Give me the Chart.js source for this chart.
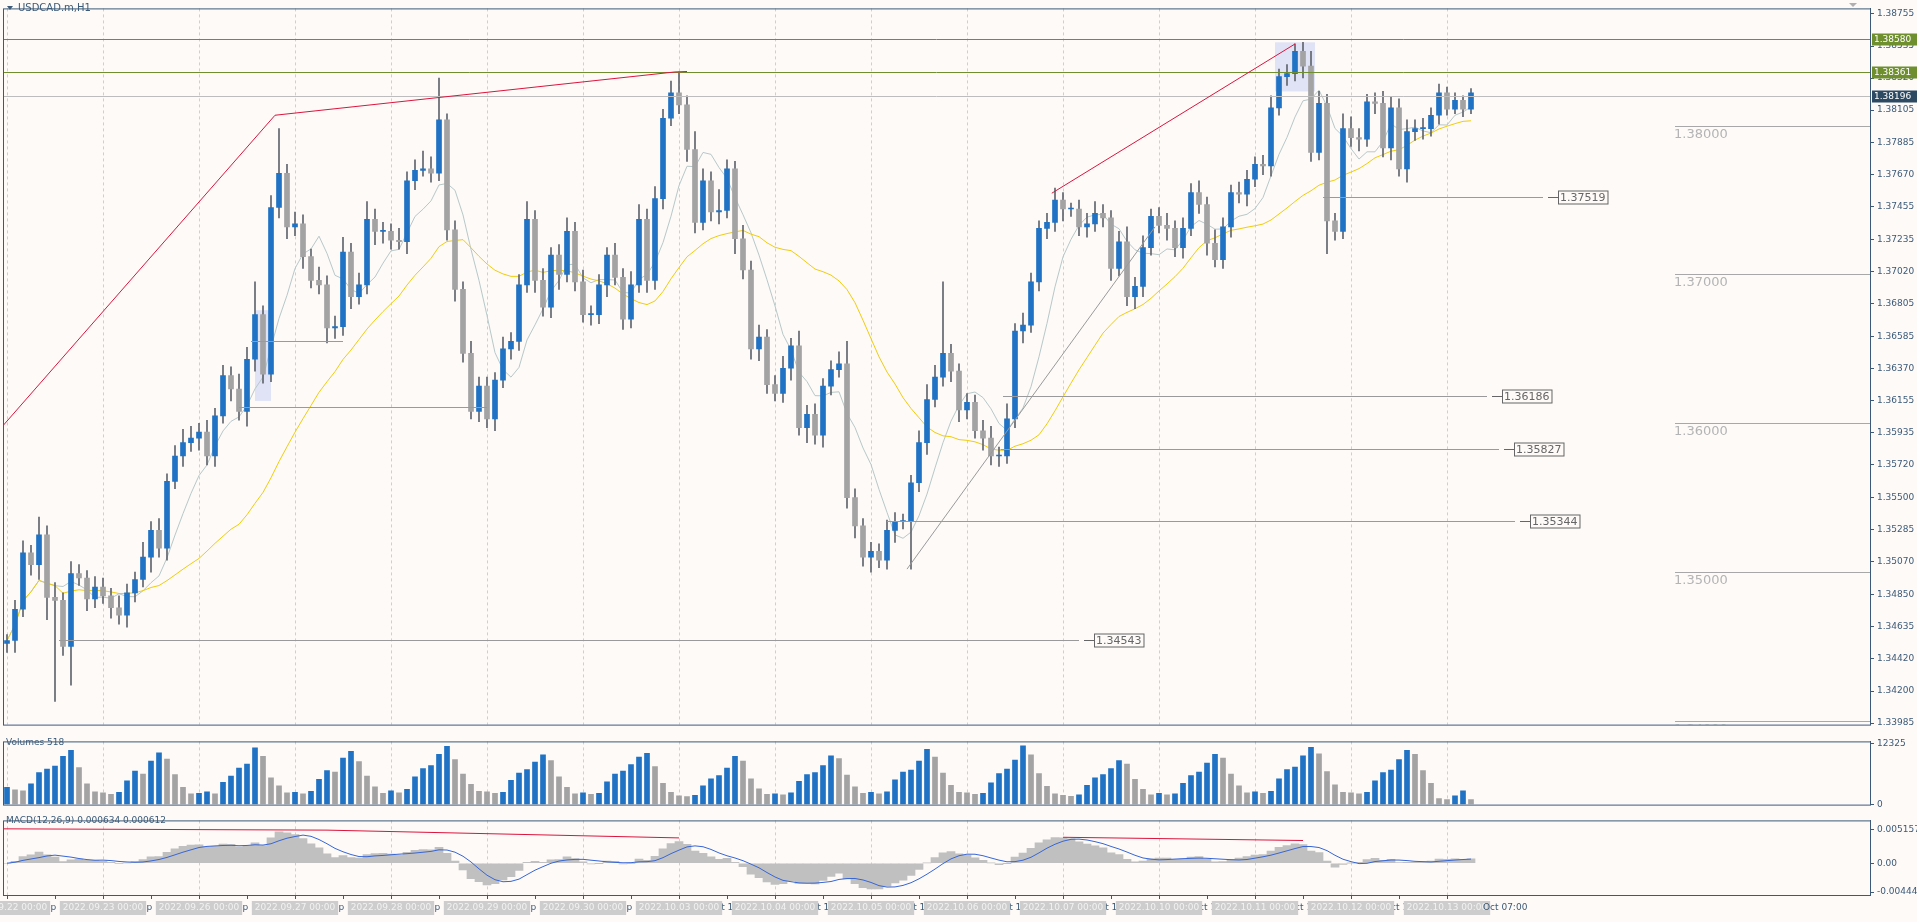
<!DOCTYPE html>
<html><head><meta charset="utf-8">
<script src="https://cdn.jsdelivr.net/npm/chart.js@4.4.1/dist/chart.umd.min.js"></script>
<style>
body{margin:0;background:#fdfaf8;overflow:hidden;width:1917px;height:922px}
canvas{position:absolute;left:0}
</style>
</head><body>
<canvas id="main" width="1917" height="733" style="top:0"></canvas>
<canvas id="vol" width="1917" height="80" style="top:733px"></canvas>
<canvas id="macd" width="1917" height="110" style="top:812px"></canvas>
<script>
// USDCAD.m H1, one bar per 2 hours
const days = ['2022.09.22','2022.09.23','2022.09.26','2022.09.27','2022.09.28','2022.09.29','2022.09.30',
  '2022.10.03','2022.10.04','2022.10.05','2022.10.06','2022.10.07','2022.10.10','2022.10.11','2022.10.12','2022.10.13'];
const midLabels = ['22 Sep','23 Sep','26 Sep','27 Sep','28 Sep','29 Sep','30 Sep',
  '3 Oct','4 Oct','5 Oct','6 Oct','7 Oct','10 Oct','11 Oct','12 Oct'];

// closes in pips above 1.34000
const firstOpen = 52;
const closePips = [
  54,75,113,105,125,83,81,50,99,96,82,90,
  84,76,71,86,95,110,128,116,161,178,187,190,
  194,178,205,232,223,208,243,273,233,345,368,332,
  334,312,296,293,264,265,315,285,293,337,329,329,
  323,322,363,370,371,368,404,330,290,247,208,225,
  203,229,250,255,293,337,296,278,313,300,329,295,
  273,273,293,313,298,270,293,337,296,351,405,422,
  414,384,335,363,342,343,371,324,303,250,258,226,
  220,237,252,197,206,192,225,236,240,150,131,110,
  114,108,128,134,134,160,187,216,231,247,235,209,
  214,195,190,178,178,203,262,266,295,331,335,350,
  344,344,332,334,341,338,304,322,285,292,318,339,
  333,331,318,331,355,347,321,310,332,355,354,364,
  374,373,412,433,435,450,440,382,415,336,329,398,
  392,391,416,415,385,412,371,396,398,398,407,422,
  411,417,411,422
];
const wickUp = [
  4,6,8,5,12,6,10,5,8,6,5,7,
  6,5,8,6,5,10,6,8,5,7,9,8,
  6,8,5,7,6,10,8,22,6,8,30,6,
  8,6,5,9,6,7,10,6,8,12,7,6,
  5,8,6,7,12,8,28,4,6,5,8,6,
  6,5,8,6,7,12,6,8,5,7,9,6,
  8,6,7,5,8,6,9,10,7,8,6,8,
  14,6,12,8,6,14,6,5,9,6,8,5,
  6,8,5,10,6,7,5,6,8,15,6,5,
  6,5,7,6,5,5,8,10,8,48,6,5,
  6,5,7,8,6,10,5,8,6,5,6,8,
  5,4,6,7,8,6,5,7,10,6,8,5,
  6,8,5,7,6,8,5,9,6,5,7,6,
  5,6,8,5,6,5,6,10,8,6,5,10,
  8,6,5,6,8,7,6,8,6,7,5,6,
  4,5,3,3
];
const wickDown = [
  6,8,5,7,10,15,68,6,26,5,8,6,
  5,7,6,8,6,5,10,6,8,5,7,6,
  8,6,7,5,8,6,10,8,6,5,7,8,
  6,8,5,6,10,7,6,8,5,6,9,8,
  6,5,8,6,4,6,5,7,8,6,5,7,
  6,8,5,7,6,5,8,6,7,10,5,6,
  5,7,6,8,5,7,6,5,8,6,7,5,
  6,8,7,5,6,8,5,10,6,7,8,6,
  5,6,8,5,10,6,8,6,5,7,8,6,
  10,5,6,8,5,32,6,8,5,6,7,8,
  6,5,8,6,7,5,6,8,5,6,7,6,
  8,5,6,7,5,6,8,5,6,8,7,5,
  5,8,6,7,5,6,8,5,6,7,6,8,
  5,6,7,5,6,5,8,6,5,22,6,5,
  6,8,5,7,6,8,5,9,6,7,5,6,
  4,3,5,3
];
const volumes = [
  3500,3000,2800,4200,6500,7200,7800,9800,11000,7500,4200,2600,
  2400,2100,2500,4800,6800,6200,8800,10500,9200,6100,3500,2200,
  2300,2600,2200,4500,5800,7400,8200,11500,9800,5400,3800,2400,
  2500,2200,2700,5100,6900,6600,9400,10800,8700,5800,3600,2300,
  2800,2400,3100,5600,7300,7900,10200,11800,9100,6200,4100,2700,
  2600,2300,2500,4900,6400,7100,8600,10100,8900,5600,3500,2200,
  2400,2100,2300,4600,6200,6800,8100,9600,10400,7700,4300,2500,
  1800,1600,1900,3800,5200,5900,7400,9800,8800,5200,3200,2100,
  2200,2000,2400,4700,6100,6500,7900,9900,9300,6000,3600,2300,
  2500,2200,2600,5000,6600,7000,8800,11200,9600,6400,3900,2500,
  2400,2100,2300,4400,6300,7200,9000,11900,10100,6300,3700,2200,
  1900,1700,2000,3900,5400,6100,7300,8900,8200,5100,3100,2000,
  2300,2000,2200,4300,5900,6600,8400,10200,9400,6200,3800,2400,
  2600,2300,2700,5200,7100,7600,9900,11600,10300,6700,4000,2500,
  2400,2200,2500,4800,6500,7000,9100,11000,10200,6900,4300,1200,
  1000,1800,2800,1000
];
const priceTicks = [1.38755,1.38535,1.38320,1.38105,1.37885,1.37670,1.37455,1.37235,1.37020,1.36805,
  1.36585,1.36370,1.36155,1.35935,1.35720,1.35500,1.35285,1.35070,1.34850,1.34635,1.34420,1.34200,1.33985];
const volTicks = [0, 12325];
const macdTicks = [0.005157, 0, -0.004446];

// chart drawings (x in bar index, y in price)
const redLines = [[[-0.5,1.35984],[33.5,1.3807],[83.5,1.38361],[85,1.38364]],[[130.6,1.37546],[161,1.38549]]];
const grayTrend = [[112.5,1.3502],[143.5,1.3732]];
const segLines = [
  {p:1.34543,a:6.5,b:134,box:true},{p:1.35344,a:110,b:188.5,box:true},{p:1.35827,a:124.2,b:186.5,box:true},
  {p:1.36186,a:124.5,b:185,box:true},{p:1.37519,a:164.5,b:192,box:true},
  {p:1.3611,a:29,b:60,box:false},{p:1.36556,a:30.5,b:42,box:false}];
const highlights = [[31,33,1.3676,1.3615],[158.5,163.5,1.3856,1.3823]];
const levels = [1.38,1.37,1.36,1.35,1.34];
const greenLines = [1.38580,1.38361];
const bidPrice = 1.38196;
const macdRed = [[[-0.5,0.0053],[40,0.0051],[84,0.0039]],[[132,0.0040],[162,0.0035]]];

const BASE = 1.34, XMIN = -0.5, XMAX = 232.875;
const AX = '#3c5a78', UP = '#1f72c4', DN = '#a3a3a3';
const FONT = {family:'DejaVu Sans', size:9};

const N = closePips.length;
const idx = closePips.map((_, i) => i);
const close = closePips.map(p => BASE + p / 1e4);
const open = idx.map(i => i ? close[i - 1] : BASE + firstOpen / 1e4);
const high = idx.map(i => Math.max(open[i], close[i]) + wickUp[i] / 1e4);
const low = idx.map(i => Math.min(open[i], close[i]) - wickDown[i] / 1e4);
const candleCol = idx.map(i => close[i] >= open[i] ? UP : DN);

function sma(a, n) { return a.map((_, i) => { const s = a.slice(Math.max(0, i - n + 1), i + 1); return s.reduce((x, y) => x + y, 0) / s.length; }); }
function ema(a, n) { const k = 2 / (n + 1); const o = []; a.forEach((v, i) => o.push(i ? v * k + o[i - 1] * (1 - k) : v)); return o; }
const maFast = sma(close, 7), maSlow = sma(close, 25);
const e1 = ema(close, 6), e2 = ema(close, 13);
const macdMain = idx.map(i => e1[i] - e2[i]);
const macdSig = sma(macdMain, 5);

function xScale() { return {type:'linear', min:XMIN, max:XMAX, offset:false, bounds:'data', display:false}; }
function yScale(min, max, ticks, fmt) {
  return {position:'right', min, max,
    afterBuildTicks: s => { s.ticks = ticks.map(v => ({value:v})); },
    afterFit: s => { s.width = 47; },
    ticks:{autoSkip:false, color:AX, font:FONT, padding:3, callback:fmt},
    grid:{drawOnChartArea:false, tickLength:4, color:AX},
    border:{color:AX}};
}
const base = (pad) => ({responsive:false, animation:false, devicePixelRatio:1,
  layout:{padding:pad}, plugins:{legend:{display:false}, tooltip:{enabled:false}}});

function dayGrid(c) {
  const ctx = c.ctx, a = c.chartArea, x = c.scales.x;
  ctx.save();
  ctx.fillStyle = '#fdfaf8'; ctx.fillRect(a.left, a.top, a.width, a.height);
  ctx.strokeStyle = '#cfcfcf'; ctx.setLineDash([3, 3]); ctx.lineWidth = 1;
  days.forEach((d, k) => { const px = Math.round(x.getPixelForValue(12 * k)) + 0.5;
    ctx.beginPath(); ctx.moveTo(px, a.top); ctx.lineTo(px, a.bottom); ctx.stroke(); });
  ctx.restore();
}
function frame(c) {
  const ctx = c.ctx, a = c.chartArea;
  ctx.save(); ctx.strokeStyle = AX; ctx.lineWidth = 1;
  ctx.strokeRect(a.left + 0.5, a.top + 0.5, a.width, a.height); ctx.restore();
}
function axisBox(ctx, a, y, txt, bg, fg) {
  ctx.fillStyle = bg; ctx.fillRect(a.right + 2, y - 6, 45, 12);
  ctx.fillStyle = fg; ctx.font = '9px DejaVu Sans'; ctx.textBaseline = 'middle';
  ctx.fillText(txt, a.right + 4, y + 0.5);
}

const mainPlugin = {
  id:'mainDraw',
  beforeDatasetsDraw(c) {
    dayGrid(c);
    const ctx = c.ctx, x = c.scales.x, y = c.scales.y;
    ctx.save(); ctx.fillStyle = 'rgba(205,210,245,0.6)';
    highlights.forEach(h => { const x0 = x.getPixelForValue(h[0]), x1 = x.getPixelForValue(h[1]);
      const y0 = y.getPixelForValue(h[2]), y1 = y.getPixelForValue(h[3]); ctx.fillRect(x0, y0, x1 - x0, y1 - y0); });
    ctx.restore();
  },
  afterDatasetsDraw(c) {
    const ctx = c.ctx, a = c.chartArea, x = c.scales.x, y = c.scales.y;
    const X = v => x.getPixelForValue(v), Y = v => Math.round(y.getPixelForValue(v)) + 0.5;
    ctx.save();
    ctx.beginPath(); ctx.rect(a.left, a.top, a.width, a.height); ctx.clip();
    ctx.lineWidth = 1;
    ctx.strokeStyle = '#a8a8a8'; ctx.fillStyle = '#b4b4b4'; ctx.font = '13px DejaVu Sans'; ctx.textBaseline = 'top';
    levels.forEach(l => { ctx.beginPath(); ctx.moveTo(X(208.5), Y(l)); ctx.lineTo(a.right, Y(l)); ctx.stroke();
      ctx.fillText(l.toFixed(5), X(208.5) - 1, Y(l) + 2); });
    ctx.strokeStyle = '#9a9a9a';
    segLines.forEach(s => { ctx.beginPath(); ctx.moveTo(X(s.a), Y(s.p)); ctx.lineTo(X(s.b), Y(s.p)); ctx.stroke();
      if (s.box) { const bx = X(s.b) + 5; ctx.strokeStyle = '#666';
        ctx.beginPath(); ctx.moveTo(bx, Y(s.p)); ctx.lineTo(bx + 10, Y(s.p)); ctx.stroke();
        ctx.font = '11px DejaVu Sans'; ctx.textBaseline = 'middle';
        const t = s.p.toFixed(5), w = ctx.measureText(t).width + 4;
        ctx.fillStyle = '#fdfaf8'; ctx.fillRect(bx + 10, Y(s.p) - 7, w, 14);
        ctx.strokeRect(bx + 10.5, Y(s.p) - 6.5, w, 13);
        ctx.fillStyle = '#666'; ctx.fillText(t, bx + 12, Y(s.p) + 0.5); ctx.strokeStyle = '#9a9a9a'; } });
    ctx.strokeStyle = '#6f8f2f';
    greenLines.forEach(g => { ctx.beginPath(); ctx.moveTo(a.left, Y(g)); ctx.lineTo(a.right, Y(g)); ctx.stroke(); });
    ctx.strokeStyle = '#bdbdbd';
    ctx.beginPath(); ctx.moveTo(a.left, Y(bidPrice)); ctx.lineTo(a.right, Y(bidPrice)); ctx.stroke();
    ctx.strokeStyle = '#9a9a9a';
    ctx.beginPath(); ctx.moveTo(X(grayTrend[0][0]), y.getPixelForValue(grayTrend[0][1]));
    ctx.lineTo(X(grayTrend[1][0]), y.getPixelForValue(grayTrend[1][1])); ctx.stroke();
    ctx.strokeStyle = '#dc143c';
    redLines.forEach(l => { ctx.beginPath(); l.forEach((p, i) => { const px = X(p[0]), py = y.getPixelForValue(p[1]);
      i ? ctx.lineTo(px, py) : ctx.moveTo(px, py); }); ctx.stroke(); });
    ctx.restore();
    frame(c);
    ctx.save();
    ctx.fillStyle = AX; ctx.beginPath(); ctx.moveTo(7, 6); ctx.lineTo(13, 6); ctx.lineTo(10, 10); ctx.fill();
    ctx.font = '10px DejaVu Sans'; ctx.textBaseline = 'middle'; ctx.fillText('USDCAD.m,H1', 18, 8);
    ctx.fillStyle = '#b0b0b0'; ctx.beginPath(); ctx.moveTo(1849, 3); ctx.lineTo(1857, 3); ctx.lineTo(1853, 7); ctx.fill();
    axisBox(ctx, a, Y(greenLines[0]), '1.38580', '#6f8f2f', '#fff');
    axisBox(ctx, a, Y(greenLines[1]), '1.38361', '#6f8f2f', '#fff');
    axisBox(ctx, a, Y(bidPrice), '1.38196', '#2e4a62', '#fff');
    ctx.restore();
  }
};

new Chart(document.getElementById('main'), {
  type:'bar',
  data:{datasets:[
    {type:'line', data:idx.map(i => ({x:i, y:maSlow[i]})), borderColor:'#f2cc0c', borderWidth:1, pointRadius:0, order:3},
    {type:'line', data:idx.map(i => ({x:i, y:maFast[i]})), borderColor:'#b8c8c8', borderWidth:1, pointRadius:0, order:3},
    {data:idx.map(i => ({x:i, y:[low[i], high[i]]})), backgroundColor:'#5f666d', barThickness:1, grouped:false, order:2},
    {data:idx.map(i => ({x:i, y:[open[i], close[i]]})), backgroundColor:candleCol, barThickness:5, minBarLength:1, grouped:false, order:1}
  ]},
  options:Object.assign(base({left:3, top:2, bottom:2, right:0}), {
    scales:{x:xScale(), y:yScale(1.33975, 1.38788, priceTicks, v => Number(v).toFixed(5))}}),
  plugins:[mainPlugin]
});

const volCol = idx.map(i => i && volumes[i] < volumes[i - 1] ? DN : UP);
new Chart(document.getElementById('vol'), {
  type:'bar',
  data:{datasets:[{data:idx.map(i => ({x:i, y:volumes[i]})), backgroundColor:volCol, barThickness:5}]},
  options:Object.assign(base({left:3, top:2, bottom:1, right:0}), {
    scales:{x:xScale(), y:yScale(0, 12800, volTicks, v => String(v))}}),
  plugins:[{id:'volDraw', beforeDatasetsDraw:dayGrid, afterDatasetsDraw(c) { frame(c);
    const ctx = c.ctx; ctx.save(); ctx.fillStyle = AX; ctx.font = '9px DejaVu Sans'; ctx.textBaseline = 'top';
    ctx.fillText('Volumes 518', 6, 5); ctx.restore(); }}]
});

const macdPlugin = {
  id:'macdDraw',
  beforeDatasetsDraw:dayGrid,
  afterDatasetsDraw(c) {
    const ctx = c.ctx, a = c.chartArea, x = c.scales.x, y = c.scales.y;
    ctx.save();
    ctx.strokeStyle = '#dc143c'; ctx.lineWidth = 1;
    macdRed.forEach(l => { ctx.beginPath(); l.forEach((p, i) => { const px = x.getPixelForValue(p[0]), py = y.getPixelForValue(p[1]);
      i ? ctx.lineTo(px, py) : ctx.moveTo(px, py); }); ctx.stroke(); });
    ctx.restore();
    frame(c);
    ctx.save();
    ctx.fillStyle = AX; ctx.font = '9px DejaVu Sans'; ctx.textBaseline = 'top';
    ctx.fillText('MACD(12,26,9) 0.000634 0.000612', 6, 4);
    ctx.strokeStyle = AX;
    for (let j = 0; j * 6 <= N; j++) { const px = Math.round(x.getPixelForValue(j * 6)) + 0.5;
      ctx.beginPath(); ctx.moveTo(px, a.bottom); ctx.lineTo(px, a.bottom + 4); ctx.stroke(); }
    ctx.textBaseline = 'middle'; ctx.textAlign = 'center';
    const ty = a.bottom + 13;
    midLabels.forEach((m, k) => { ctx.fillStyle = AX; ctx.fillText(m + ' 12:00', x.getPixelForValue(12 * k + 6), ty); });
    days.forEach((d, k) => { const cx = x.getPixelForValue(12 * k); const t = d + ' 00:00';
      const w = ctx.measureText(t).width + 6; ctx.fillStyle = '#cdcdcd'; ctx.fillRect(cx - w / 2, ty - 7, w, 14);
      ctx.fillStyle = '#f2f2f2'; ctx.fillText(t, cx, ty); });
    ctx.textAlign = 'left'; ctx.fillStyle = AX; ctx.fillText('Oct 07:00', x.getPixelForValue(N - 1) + 12, ty);
    ctx.restore();
  }
};
new Chart(document.getElementById('macd'), {
  type:'bar',
  data:{datasets:[
    {type:'line', data:idx.map(i => ({x:i, y:macdSig[i]})), borderColor:'#3766d6', borderWidth:1, pointRadius:0, order:1},
    {data:idx.map(i => ({x:i, y:macdMain[i]})), backgroundColor:'#c0c0c0', barThickness:8, order:2}
  ]},
  options:Object.assign(base({left:3, top:2, bottom:27, right:0}), {
    scales:{x:xScale(), y:yScale(-0.0049, 0.0066, macdTicks, v => v === 0 ? '0.00' : String(v))}}),
  plugins:[macdPlugin]
});
</script>
</body></html>
